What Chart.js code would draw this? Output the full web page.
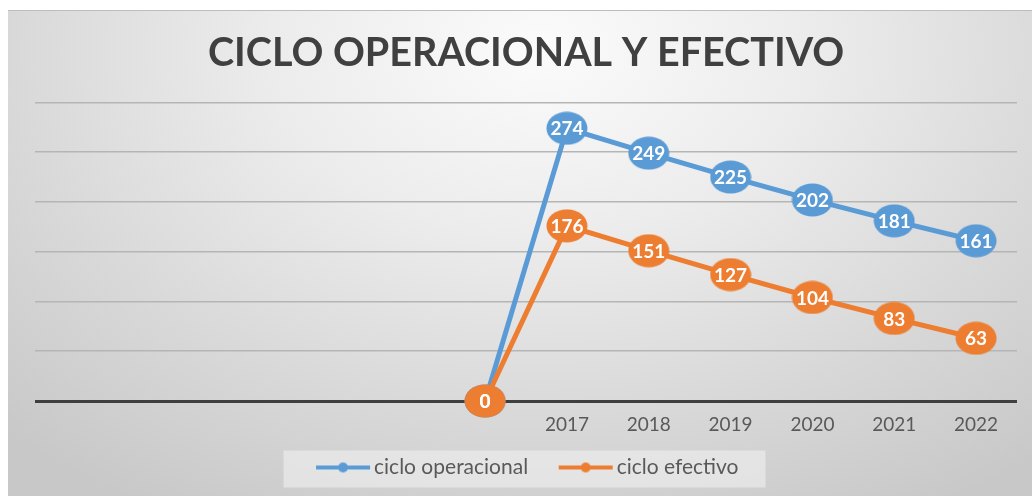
<!DOCTYPE html>
<html>
<head>
<meta charset="utf-8">
<script src="https://cdn.jsdelivr.net/npm/chart.js@4"></script>
<style>
  html, body { margin: 0; padding: 0; background: #ffffff; }
  #frame {
    position: absolute; left: 8px; top: 10px; width: 1024px; height: 486px;
    border-top: 1px solid #bdbdbd;
    box-sizing: border-box;
    background: radial-gradient(ellipse 75% 110% at 52% 8%, #fbfbfb 0%, #ececec 35%, #d8d8d8 70%, #c8c8c8 100%);
  }
  #chart { display: block; }
</style>
</head>
<body>
<div id="frame"><canvas id="chart" width="1024" height="485"></canvas></div>
<script>
// Categorías del eje X (las primeras quedan sin rótulo)
const categorias = ['', '', '', '', '', '', '2017', '2018', '2019', '2020', '2021', '2022'];

// Valores en días de cada ciclo
const cicloOperacional = [null, null, null, null, null, 0, 274, 249, 225, 202, 181, 161];
const cicloEfectivo = [null, null, null, null, null, 0, 176, 151, 127, 104, 83, 63];

const azul = '#5b9bd5';
const naranja = '#ed7d31';

// Marcador ovalado para los puntos
function crearMarcador(color) {
    const c = document.createElement('canvas');
    c.width = 42;
    c.height = 34;
    const g = c.getContext('2d');
    g.fillStyle = color;
    g.beginPath();
    g.ellipse(21, 17, 20.5, 16.5, 0, 0, Math.PI * 2);
    g.fill();
    return c;
}

// Icono de leyenda: línea con punto, pegada al texto
const anchoCaja = 66;
function crearIcono(color) {
    const c = document.createElement('canvas');
    c.width = anchoCaja + 17;
    c.height = 12;
    const g = c.getContext('2d');
    const fin = c.width - 2;
    const ini = fin - 54;
    g.strokeStyle = color;
    g.lineWidth = 4;
    g.beginPath();
    g.moveTo(ini, 6);
    g.lineTo(fin, 6);
    g.stroke();
    g.fillStyle = color;
    g.beginPath();
    g.arc((ini + fin) / 2, 6, 5, 0, Math.PI * 2);
    g.fill();
    return c;
}

const iconos = [crearIcono(azul), crearIcono(naranja)];

// Corre la leyenda un poco a la izquierda y le pone fondo claro
const fondoLeyenda = {
    id: 'fondoLeyenda',
    afterLayout(chart) {
        chart.legend.left -= 8;
        chart.legend.right -= 8;
    },
    beforeDraw(chart) {
        const cajas = chart.legend && chart.legend.legendHitBoxes;
        if (!cajas || !cajas.length) return;
        const izq = Math.min(...cajas.map(b => b.left)) - 14;
        const der = Math.max(...cajas.map(b => b.left + b.width)) + 27;
        const centro = cajas[0].top + cajas[0].height / 2;
        const ctx = chart.ctx;
        ctx.save();
        ctx.fillStyle = 'rgba(240, 240, 240, 0.6)';
        ctx.fillRect(izq, centro - 17, der - izq, 37);
        ctx.restore();
    }
};

// Etiquetas de valor dentro de cada marcador
const etiquetas = {
    id: 'etiquetas',
    afterDatasetsDraw(chart) {
        const ctx = chart.ctx;
        ctx.save();
        ctx.font = 'bold 19px Lato';
        ctx.fillStyle = '#ffffff';
        ctx.textAlign = 'center';
        ctx.textBaseline = 'middle';
        [0, 1].forEach(i => {
            const meta = chart.getDatasetMeta(i);
            const datos = chart.data.datasets[i].data;
            meta.data.forEach((p, j) => {
                if (datos[j] === null) return;
                ctx.fillText(String(datos[j]), p.x, p.y + 1);
            });
        });
        ctx.restore();
    }
};

const ctx = document.getElementById('chart').getContext('2d');
new Chart(ctx, {
    type: 'line',
    data: {
        labels: categorias,
        datasets: [{
            label: 'ciclo operacional',
            data: cicloOperacional,
            borderColor: azul,
            backgroundColor: azul,
            borderWidth: 5,
            pointStyle: crearMarcador(azul),
            pointRadius: 18,
            clip: false,
            order: 2
        }, {
            label: 'ciclo efectivo',
            data: cicloEfectivo,
            borderColor: naranja,
            backgroundColor: naranja,
            borderWidth: 5,
            pointStyle: crearMarcador(naranja),
            pointRadius: 18,
            clip: false,
            order: 1
        }]
    },
    options: {
        responsive: false,
        animation: false,
        spanGaps: false,
        layout: {
            autoPadding: false,
            padding: { left: 27, right: 15, top: 0, bottom: 8 }
        },
        scales: {
            x: {
                offset: true,
                grid: { display: false },
                border: { display: false },
                afterFit(s) {
                    s.height = 44;
                },
                ticks: {
                    autoSkip: false,
                    maxRotation: 0,
                    padding: 4,
                    color: '#595959',
                    font: { family: 'Lato', size: 19 }
                }
            },
            y: {
                min: 0,
                max: 300,
                border: { display: false },
                grid: {
                    drawTicks: false,
                    color: c => c.tick.value === 0 ? '#3f3f3f' : '#b5b5b5',
                    lineWidth: c => c.tick.value === 0 ? 3 : 1.5
                },
                ticks: { display: false, stepSize: 50 }
            }
        },
        plugins: {
            title: {
                display: true,
                text: 'CICLO OPERACIONAL Y EFECTIVO',
                color: '#404040',
                font: { family: 'Lato', size: 39.5, weight: 'bold' },
                padding: { top: 19, bottom: 25 }
            },
            legend: {
                position: 'bottom',
                labels: {
                    usePointStyle: true,
                    pointStyleWidth: anchoCaja,
                    boxWidth: anchoCaja,
                    boxHeight: 10,
                    padding: 12,
                    color: '#595959',
                    font: { family: 'Lato', size: 21 },
                    generateLabels(chart) {
                        const items = Chart.defaults.plugins.legend.labels.generateLabels(chart);
                        items.forEach(it => { it.pointStyle = iconos[it.datasetIndex]; });
                        return items;
                    },
                    sort: (a, b) => a.datasetIndex - b.datasetIndex
                }
            },
            tooltip: { enabled: false }
        }
    },
    plugins: [fondoLeyenda, etiquetas]
});
</script>
</body>
</html>
